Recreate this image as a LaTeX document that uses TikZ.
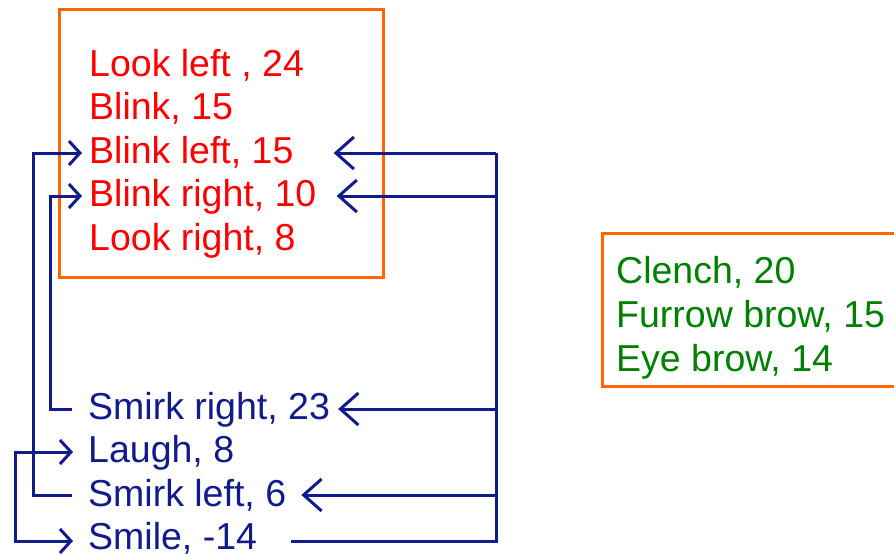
\documentclass[tikz,border=0pt]{standalone}
\usepackage{fontspec}
\setmainfont{Liberation Sans}
\usetikzlibrary{arrows.meta}
\definecolor{framecol}{RGB}{255,102,0}
\definecolor{redtxt}{RGB}{255,0,0}
\definecolor{greentxt}{RGB}{0,128,0}
\definecolor{navyline}{RGB}{16,28,140}
\begin{document}
\begin{tikzpicture}[x=1pt,y=-1pt,
  lbl/.style={anchor=base west, inner sep=0pt, font=\fontsize{37.5}{44}\selectfont},
  redlbl/.style={lbl, text=redtxt},
  bluelbl/.style={lbl, text=navyline},
  greenlbl/.style={lbl, text=greentxt},
  frame/.style={draw=framecol, line width=3pt},
  link/.style={draw=navyline, line width=3pt, line join=miter},
  bigbarb/.tip={Straight Barb[length=18pt, width=32pt, line width=3pt]},
  smallbarb/.tip={Straight Barb[length=11pt, width=24pt, line width=3pt]},
  tipbig/.style={-bigbarb},
  tipsmall/.style={-smallbarb}
]
\clip (0,0) rectangle (894,555);
\fill[white] (0,0) rectangle (894,555);

% frames
\draw[frame] (59,9) rectangle (383,277);
\draw[frame] (602,233) rectangle (910,386);

% red group
\node[redlbl] (lookleft)   at (89,76)  {Look left , 24};
\node[redlbl] (blink)      at (89,119) {Blink, 15};
\node[redlbl] (blinkleft)  at (89,163) {Blink left, 15};
\node[redlbl] (blinkright) at (89,206) {Blink right, 10};
\node[redlbl] (lookright)  at (89,250) {Look right, 8};

% blue group
\node[bluelbl] (smirkright) at (88,419) {Smirk right, 23};
\node[bluelbl] (laugh)      at (88,462) {Laugh, 8};
\node[bluelbl] (smirkleft)  at (88,506) {Smirk left, 6};
\node[bluelbl] (smile)      at (88,549) {Smile, -14};

% green group
\node[greenlbl] (clench)  at (616,283) {Clench, 20};
\node[greenlbl] (furrow)  at (616,327) {Furrow brow, 15};
\node[greenlbl] (eyebrow) at (616,371) {Eye brow, 14};

% connector levels
\coordinate (trunk) at (496,0);
\path ([yshift=10pt]blinkleft.base east)  coordinate (blE)
      ([yshift=10pt]blinkright.base east) coordinate (brE)
      ([yshift=10pt]smirkright.base east) coordinate (srE)
      ([yshift=11pt]smirkleft.base east)  coordinate (slE)
      ([yshift=8pt]smile.base east)       coordinate (smE);

% left side links
\draw[link,tipsmall] ([xshift=-16pt,yshift=11pt]smirkleft.base west) -- ++(-39pt,0)
      |- ([xshift=-7pt,yshift=10pt]blinkleft.base west);
\draw[link,tipsmall] ([xshift=-16pt,yshift=10pt]smirkright.base west) -- ++(-22pt,0)
      |- ([xshift=-7pt,yshift=10pt]blinkright.base west);
\draw[link,smallbarb-smallbarb] ([xshift=-15pt,yshift=10pt]laugh.base west) -- ++(-58pt,0)
      |- ([xshift=-15pt,yshift=8pt]smile.base west);

% right side trunk
\draw[link] ([xshift=34pt]smE) -- (trunk |- smE) -- (trunk |- blE);
\draw[link,tipbig] (trunk |- blE) -- ([xshift=40pt]blE);
\draw[link,tipbig] (trunk |- brE) -- ([xshift=20pt]brE);
\draw[link,tipbig] (trunk |- srE) -- ([xshift=8pt]srE);
\draw[link,tipbig] (trunk |- slE) -- ([xshift=15pt]slE);
\end{tikzpicture}
\end{document}
